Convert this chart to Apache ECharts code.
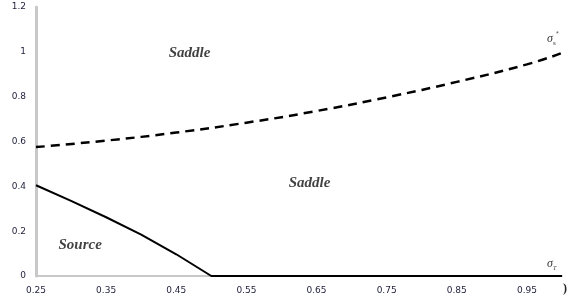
<!DOCTYPE html>
<html>
<head>
<meta charset="utf-8">
<script src="https://cdn.jsdelivr.net/npm/echarts@6/dist/echarts.min.js"></script>
<style>
  html, body { margin: 0; padding: 0; background: #fff; }
  #main { width: 572px; height: 301px; }
</style>
</head>
<body>
<div id="main"></div>
<script>
// dashed boundary (sigma_s*)
const dashedX = [0.25, 0.35, 0.45, 0.55, 0.65, 0.75, 0.85, 0.95, 1.0];
const dashedY = [0.575, 0.604, 0.640, 0.684, 0.736, 0.797, 0.866, 0.944, 0.995];

// solid boundary (source region), then along the axis
const solidX = [0.25, 0.30, 0.35, 0.40, 0.45, 0.50, 1.0];
const solidY = [0.405, 0.335, 0.262, 0.185, 0.097, 0, 0];

// region names, placed in data coords
const regionNames = ["Saddle", "Saddle", "Source"];
const regionX = [0.469, 0.64, 0.313];
const regionY = [0.995, 0.415, 0.138];

const chart = echarts.init(document.getElementById("main"));

const zip = (xs, ys) => xs.map((x, i) => [x, ys[i]]);

const option = {
  animation: false,
  grid: { left: 36, right: 10, top: 7, bottom: 25, containLabel: false },
  xAxis: {
    type: "value",
    min: 0.25,
    max: 1.0,
    interval: 0.1,
    axisLine: { lineStyle: { color: "#c8c8c8", width: 2 } },
    axisTick: { show: false },
    splitLine: { show: false },
    axisLabel: {
      showMaxLabel: false,
      margin: 10,
      fontSize: 9,
      color: "#1e1e3a",
      fontFamily: "DejaVu Sans",
      formatter: (v) => v.toFixed(2)
    }
  },
  yAxis: {
    type: "value",
    min: 0,
    max: 1.2,
    interval: 0.2,
    axisLine: { show: true, lineStyle: { color: "#c8c8c8", width: 3 } },
    axisTick: { show: false },
    splitLine: { show: false },
    axisLabel: {
      margin: 10,
      fontSize: 9,
      color: "#1e1e3a",
      fontFamily: "DejaVu Sans",
      formatter: (v) => String(Math.round(v * 10) / 10)
    }
  },
  series: [
    {
      type: "line",
      data: zip(dashedX, dashedY),
      smooth: true,
      symbol: "none",
      lineStyle: { color: "#000", width: 2.5, type: [9, 6] }
    },
    {
      type: "line",
      data: zip(solidX, solidY),
      smooth: false,
      symbol: "none",
      lineStyle: { color: "#000", width: 2 }
    },
    {
      type: "scatter",
      symbolSize: 0,
      data: regionNames.map((n, i) => ({ name: n, value: [regionX[i], regionY[i]] })),
      label: {
        show: true,
        position: "inside",
        formatter: "{b}",
        fontFamily: "Liberation Serif",
        fontStyle: "italic",
        fontWeight: "bold",
        fontSize: 15,
        color: "#111"
      }
    }
  ],
  graphic: [
    {
      type: "text",
      left: 547,
      top: 33,
      style: {
        text: "{a|σ}{b|s}",
        rich: {
          a: { fontFamily: "Liberation Serif", fontStyle: "italic", fontSize: 12, fill: "#333" },
          b: { fontFamily: "Liberation Serif", fontSize: 7, fill: "#333", padding: [8, 0, 0, 0] }
        }
      }
    },
    {
      type: "text",
      left: 556,
      top: 31,
      style: { text: "*", fontSize: 7, fill: "#555" }
    },
    {
      type: "text",
      left: 547,
      top: 258,
      style: {
        text: "{a|σ}{b|T}",
        rich: {
          a: { fontFamily: "Liberation Serif", fontStyle: "italic", fontSize: 12, fill: "#333" },
          b: { fontFamily: "Liberation Serif", fontStyle: "italic", fontSize: 6, fill: "#333", padding: [8, 0, 0, 0] }
        }
      }
    },
    {
      type: "text",
      left: 563,
      top: 283,
      style: { text: ")", fontFamily: "Liberation Serif", fontWeight: "bold", fontSize: 12, fill: "#222" }
    }
  ]
};

option && chart.setOption(option);
</script>
</body>
</html>
